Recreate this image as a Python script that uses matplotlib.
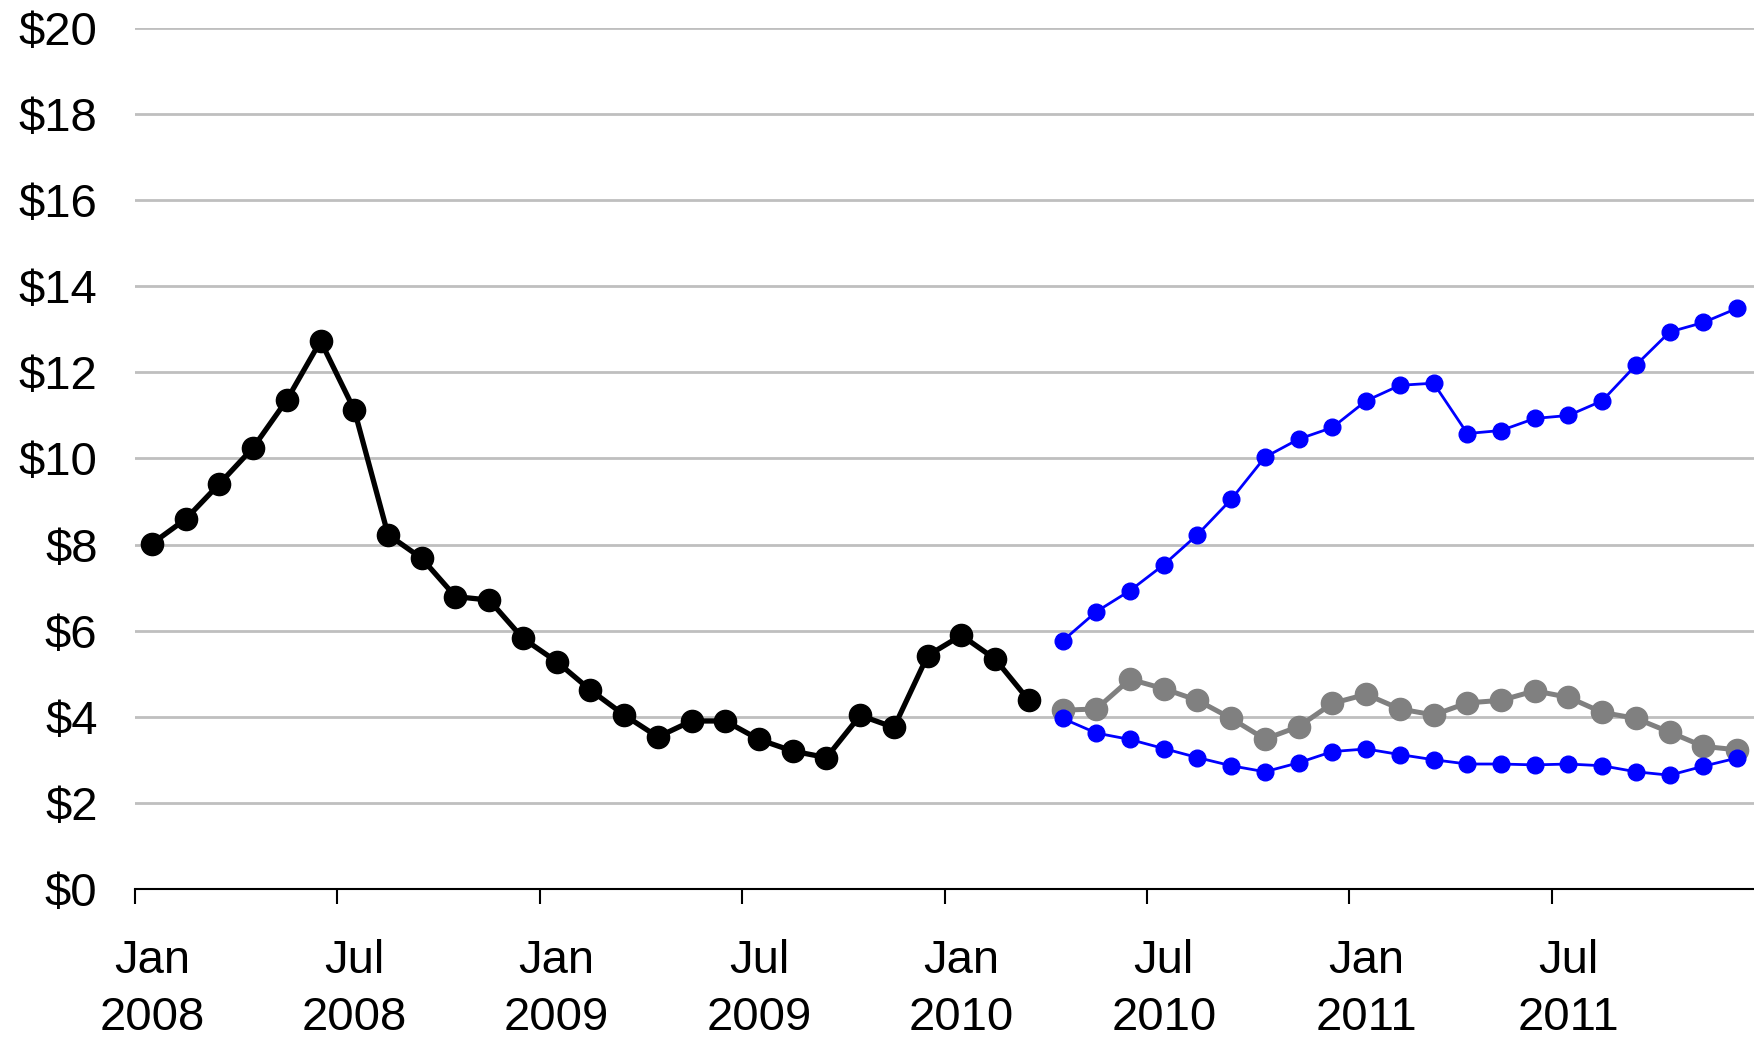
import matplotlib
matplotlib.use("Agg")
import matplotlib.pyplot as plt
from matplotlib.ticker import FixedLocator, NullFormatter

plt.rcParams['font.family'] = ['Liberation Sans', 'DejaVu Sans']

# monthly index, Jan 2008 = 0 ... Dec 2011 = 47
n_months = 48
tick_labels = ["Jan\n2008", "Jul\n2008", "Jan\n2009", "Jul\n2009",
               "Jan\n2010", "Jul\n2010", "Jan\n2011", "Jul\n2011"]
y_labels = ["$0", "$2", "$4", "$6", "$8", "$10", "$12", "$14", "$16", "$18", "$20"]

# actual prices, Jan 2008 - Mar 2010
actual = [8.02, 8.59, 9.41, 10.25, 11.36, 12.73, 11.13, 8.23, 7.68, 6.79,
          6.71, 5.82, 5.28, 4.62, 4.04, 3.53, 3.90, 3.90, 3.47, 3.20,
          3.05, 4.03, 3.75, 5.42, 5.89, 5.34, 4.38]

# forecast, Apr 2010 - Dec 2011
forecast = [4.15, 4.18, 4.87, 4.65, 4.38, 3.96, 3.48, 3.77, 4.31, 4.52,
            4.18, 4.04, 4.32, 4.38, 4.60, 4.45, 4.10, 3.96, 3.64, 3.31, 3.23]

upper = [5.76, 6.44, 6.93, 7.53, 8.23, 9.05, 10.03, 10.45, 10.72, 11.34,
         11.70, 11.75, 10.58, 10.65, 10.93, 11.00, 11.34, 12.17, 12.94, 13.16, 13.49]

lower = [3.96, 3.62, 3.47, 3.26, 3.05, 2.86, 2.72, 2.93, 3.19, 3.25,
         3.12, 3.00, 2.90, 2.90, 2.88, 2.90, 2.86, 2.72, 2.64, 2.85, 3.04]

x_actual = list(range(len(actual)))
x_fc = list(range(len(actual), len(actual) + len(forecast)))

fig = plt.figure(figsize=(17.54, 10.42), dpi=100)
ax = fig.add_axes([0.077, 0.147, 0.923, 0.826])

ax.plot(x_actual, actual, color='black', lw=3.8, marker='o', ms=16, zorder=4)
ax.plot(x_fc, forecast, color='#808080', lw=3.6, marker='o', ms=16, zorder=3)
ax.plot(x_fc, upper, color='#0000ff', lw=2, marker='o', ms=12, zorder=5)
ax.plot(x_fc, lower, color='#0000ff', lw=2, marker='o', ms=12, zorder=5)

ax.set_xlim(-0.5, n_months - 0.5)
ax.set_ylim(0, 20)

# y axis
ax.set_yticks(range(0, 21, 2))
ax.set_yticklabels(y_labels)
ax.tick_params(axis='y', length=0, pad=27, labelsize=34)
ax.yaxis.grid(True, color='#bfbfbf', lw=2)
ax.set_axisbelow(True)

# x axis: tick marks at half-year boundaries, labels on the first month
ax.xaxis.set_major_locator(FixedLocator([i - 0.5 for i in range(0, n_months, 6)]))
ax.xaxis.set_major_formatter(NullFormatter())
ax.xaxis.set_minor_locator(FixedLocator(list(range(0, n_months, 6))))
ax.set_xticklabels(tick_labels, minor=True, linespacing=1.38)
ax.tick_params(axis='x', which='major', length=11, width=1.5, direction='out', color='black')
ax.tick_params(axis='x', which='minor', length=0, pad=36, labelsize=34)

for side in ['left', 'right', 'top']:
    ax.spines[side].set_visible(False)
ax.spines['bottom'].set_linewidth(1.5)
ax.spines['bottom'].set_zorder(6)

fig.savefig("out.png", dpi=100)
